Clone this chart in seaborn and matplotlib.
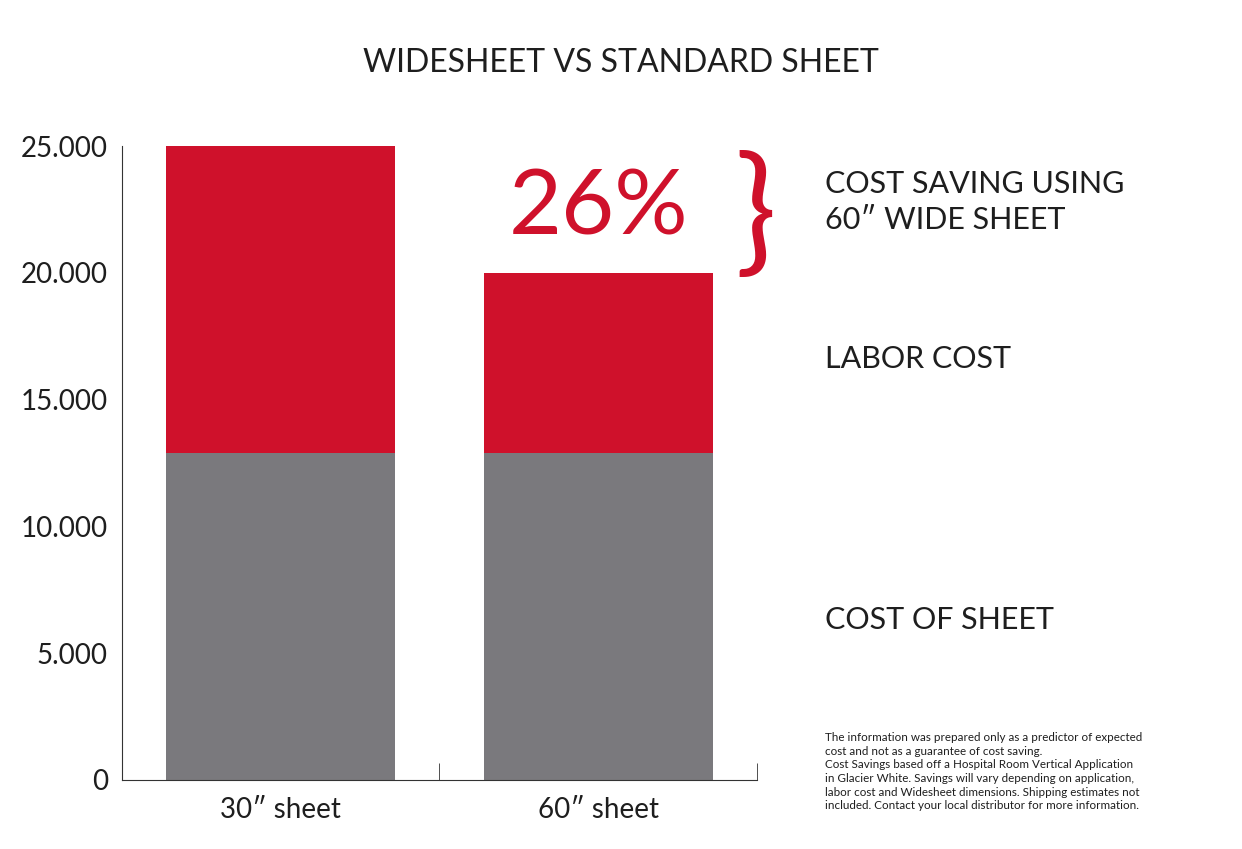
import matplotlib
matplotlib.use("Agg")
import matplotlib.pyplot as plt
from matplotlib.ticker import FuncFormatter, FixedLocator
import seaborn as sns
import pandas as pd

CATEGORIES = ["30\u2033 sheet", "60\u2033 sheet"]
SHEET_COST = [12900, 12900]
TOTAL_COST = [25000, 20000]
YTICKS = [0, 5000, 10000, 15000, 20000, 25000]
RED = "#cf112b"
GRAY = "#7a797d"
INK = "#1e1e1e"

sns.set_style("white")
plt.rcParams["font.family"] = ["Lato", "DejaVu Sans"]

df = pd.DataFrame({"cat": CATEGORIES, "sheet": SHEET_COST, "total": TOTAL_COST})

fig = plt.figure(figsize=(12.42, 8.49), dpi=100)
ax = fig.add_axes([0.098, 0.0813, 0.5115, 0.7467])

sns.barplot(data=df, x="cat", y="total", color=RED, saturation=1, width=0.72,
            linewidth=0, ax=ax)
sns.barplot(data=df, x="cat", y="sheet", color=GRAY, saturation=1, width=0.72,
            linewidth=0, ax=ax)

ax.set_xlim(-0.5, 1.5)
ax.set_ylim(0, 25000)
ax.yaxis.set_major_locator(FixedLocator(YTICKS))
ax.yaxis.set_major_formatter(FuncFormatter(lambda v, p: f"{int(v):,}".replace(",", ".")))
ax.set_xlabel("")
ax.set_ylabel("")
sns.despine(ax=ax)
for s in ["left", "bottom"]:
    ax.spines[s].set_color("#333333")
    ax.spines[s].set_linewidth(0.8)
ax.tick_params(axis="y", labelsize=20, labelcolor=INK, length=0, pad=10)
ax.tick_params(axis="x", labelsize=20, labelcolor=INK, length=0, pad=12)
ax.set_xticks([0.5, 1.5], minor=True)
ax.tick_params(axis="x", which="minor", length=12, direction="in", color="#333333", bottom=True)

fig.text(0.5, 0.926, "WIDESHEET VS STANDARD SHEET", ha="center", va="center",
         fontsize=23, color=INK)
ax.text(1, 22500, "26%", ha="center", va="center", fontsize=66, color=RED)
fig.text(0.608, 0.744, "}", ha="center", va="center", fontsize=100, color=RED)
lx = 0.664
fig.text(lx, 0.762, "COST SAVING USING\n60\u2033 WIDE SHEET", ha="left", va="center",
         fontsize=22, color=INK, linespacing=1.35)
fig.text(lx, 0.577, "LABOR COST", ha="left", va="center", fontsize=22, color=INK)
fig.text(lx, 0.27, "COST OF SHEET", ha="left", va="center", fontsize=22, color=INK)
note = ("The information was prepared only as a predictor of expected\n"
        "cost and not as a guarantee of cost saving.\n"
        "Cost Savings based off a Hospital Room Vertical Application\n"
        "in Glacier White. Savings will vary depending on application,\n"
        "labor cost and Widesheet dimensions. Shipping estimates not\n"
        "included. Contact your local distributor for more information.")
fig.text(lx, 0.091, note, ha="left", va="center", fontsize=8.4,
         color=INK, linespacing=1.3)

fig.savefig("out.png", dpi=100)
